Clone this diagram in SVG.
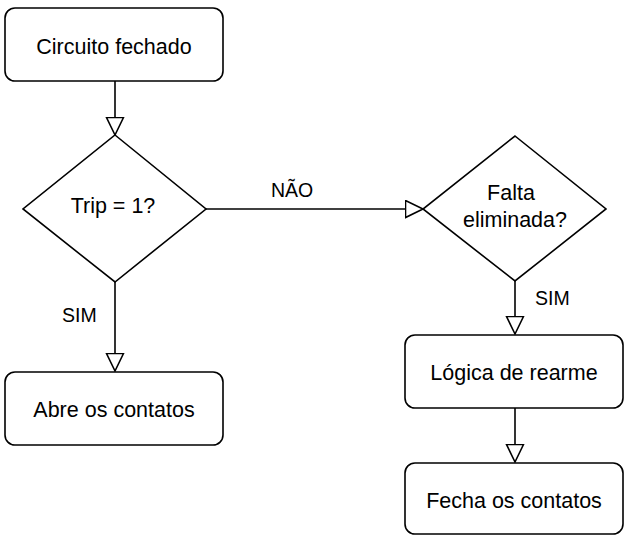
<svg xmlns="http://www.w3.org/2000/svg" width="627" height="536" viewBox="0 0 627 536">
<style>
.box{fill:#fff;stroke:#000;stroke-width:1.6}
.t{font-family:"Liberation Sans",Arial,sans-serif;font-size:21.5px;fill:#000;text-anchor:middle}
.l{font-family:"Liberation Sans",Arial,sans-serif;font-size:19.5px;fill:#000}
.c{fill:none;stroke:#000;stroke-width:1.6;marker-end:url(#arr)}
</style>
<defs>
<marker id="arr" markerUnits="userSpaceOnUse" viewBox="-1 -1 20 20" refX="17.5" refY="8.5" markerWidth="20" markerHeight="20" orient="auto">
<path d="M0,0 L17.5,8.5 L0,17 Z" fill="#fff" stroke="#000" stroke-width="1.6"/>
</marker>
</defs>
<rect width="627" height="536" fill="#fff"/>
<g id="connectors">
<path class="c" d="M115,81 V135"/>
<path class="c" d="M206,209 H423"/>
<path class="c" d="M115,282 V371"/>
<path class="c" d="M515,281 V334"/>
<path class="c" d="M515,408 V462"/>
<text class="l" x="271" y="197">NÃO</text>
<text class="l" x="62" y="322">SIM</text>
<text class="l" x="535" y="305">SIM</text>
</g>
<g id="n1"><rect class="box" x="5" y="8" width="218" height="73" rx="10"/><text class="t" x="114" y="54">Circuito fechado</text></g>
<g id="n2"><polygon class="box" points="115,135 206,209 115,282 23,209"/><text class="t" x="113" y="213">Trip = 1?</text></g>
<g id="n3"><rect class="box" x="5" y="372" width="218" height="73" rx="10"/><text class="t" x="114" y="417">Abre os contatos</text></g>
<g id="n4"><polygon class="box" points="515,136 606,209 515,281 423,209"/><text class="t" x="511" y="200">Falta</text><text class="t" x="515" y="227">eliminada?</text></g>
<g id="n5"><rect class="box" x="405" y="335" width="218" height="73" rx="10"/><text class="t" x="514" y="380">Lógica de rearme</text></g>
<g id="n6"><rect class="box" x="405" y="463" width="218" height="71" rx="10"/><text class="t" x="514" y="508">Fecha os contatos</text></g>
</svg>
